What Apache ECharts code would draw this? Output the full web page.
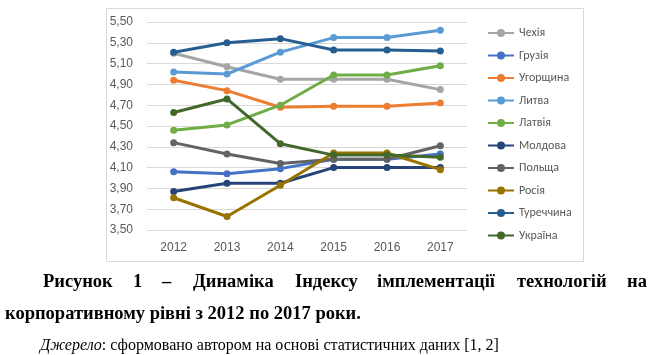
<!DOCTYPE html>
<html>
<head>
<meta charset="utf-8">
<script src="https://cdn.jsdelivr.net/npm/echarts@6/dist/echarts.min.js"></script>
<style>
html,body{margin:0;padding:0;background:#fff;}
#c{width:650px;height:355px;}
</style>
</head>
<body>
<div id="c"></div>
<script>
const years = ['2012','2013','2014','2015','2016','2017'];
const yTicks = ['3,50','3,70','3,90','4,10','4,30','4,50','4,70','4,90','5,10','5,30','5,50'];

const czech    = [5.20, 5.07, 4.95, 4.95, 4.95, 4.85];
const georgia  = [4.06, 4.04, 4.09, 4.18, 4.18, 4.23];
const hungary  = [4.94, 4.84, 4.68, 4.69, 4.69, 4.72];
const lithuania= [5.02, 5.00, 5.21, 5.35, 5.35, 5.42];
const latvia   = [4.46, 4.51, 4.70, 4.99, 4.99, 5.08];
const moldova  = [3.87, 3.95, 3.95, 4.10, 4.10, 4.10];
const poland   = [4.34, 4.23, 4.14, 4.18, 4.18, 4.31];
const russia   = [3.81, 3.63, 3.93, 4.24, 4.24, 4.08];
const turkey   = [5.21, 5.30, 5.34, 5.23, 5.23, 5.22];
const ukraine  = [4.63, 4.76, 4.33, 4.22, 4.22, 4.20];

const names = ['Чехія','Грузія','Угорщина','Литва','Латвія','Молдова','Польща','Росія','Туреччина','Україна'];
const values = [czech, georgia, hungary, lithuania, latvia, moldova, poland, russia, turkey, ukraine];
const colors = ['#A5A5A5','#4472C4','#ED7D31','#5B9BD5','#70AD47','#264478','#636363','#997300','#255E91','#43682B'];

const captionWords = ['Рисунок','1','–','Динаміка','Індексу','імплементації','технологій','на'];
const captionLine2 = 'корпоративному рівні з 2012 по 2017 роки.';
const sourceLabel = 'Джерело';
const sourceText = ': сформовано автором на основі статистичних даних [1, 2]';

const wordX = [43, 133, 162, 193, 295, 377, 517, 627];
const capFont = 'bold 18.5px "Liberation Serif"';

const graphics = [
  {type:'rect', shape:{x:106.5, y:8.5, width:477, height:253}, style:{fill:'none', stroke:'#D9D9D9', lineWidth:1}, z:-1}
];
captionWords.forEach((w,i)=>{
  graphics.push({type:'text', x:wordX[i], y:292, style:{text:w, font:capFont, fill:'#000', verticalAlign:'bottom'}});
});
graphics.push({type:'text', x:5, y:324, style:{text:captionLine2, font:capFont, fill:'#000', verticalAlign:'bottom'}});
graphics.push({type:'text', x:40, y:354, style:{
  text:'{i|'+sourceLabel+'}'+sourceText,
  font:'16px "Liberation Serif"', fill:'#000', verticalAlign:'bottom',
  rich:{i:{font:'italic 16px "Liberation Serif"', fill:'#000'}}
}});

const chart = echarts.init(document.getElementById('c'), null, {renderer:'canvas'});
chart.setOption({
  animation:false,
  backgroundColor:'#fff',
  color: colors,
  grid:{left:147, right:183, top:22, bottom:125, containLabel:false},
  legend:{
    orient:'vertical', left:482, top:22, padding:5,
    itemWidth:26, itemHeight:10, itemGap:10.5,
    textStyle:{color:'#595959', fontSize:12, fontFamily:'Calibri, "Liberation Sans", Arial'},
    data:names
  },
  xAxis:{
    type:'category', data:years, boundaryGap:true,
    axisLine:{show:false}, axisTick:{show:false},
    axisLabel:{color:'#595959', fontSize:12, margin:12, fontFamily:'"Liberation Sans", Arial'}
  },
  yAxis:{
    type:'value', min:3.5, max:5.5, interval:0.2,
    axisLine:{show:false}, axisTick:{show:false},
    splitLine:{lineStyle:{color:'#D9D9D9', width:1}},
    axisLabel:{color:'#595959', fontSize:12, margin:14, fontFamily:'"Liberation Sans", Arial',
      formatter:(v)=>{const i=Math.round((v-3.5)/0.2); return yTicks[i]!==undefined?yTicks[i]:'';}}
  },
  series: names.map((n,i)=>({
    name:n, type:'line', data:values[i],
    symbol:'circle', symbolSize:7,
    lineStyle:{width:3, color:colors[i]},
    itemStyle:{color:colors[i]},
    z:2+i
  })),
  graphic: graphics
});
</script>
</body>
</html>
